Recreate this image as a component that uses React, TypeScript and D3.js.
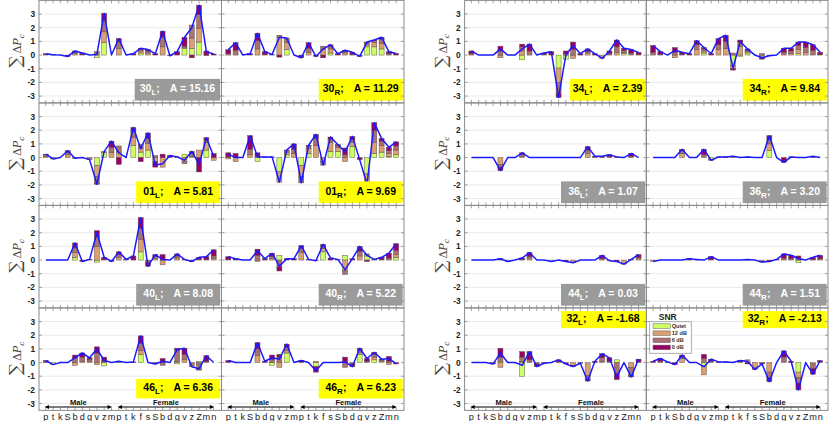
import React from 'react';
import * as d3 from 'd3';

// ---------- data ----------
const categories = ['p','t','k','S','b','d','g','v','z','m','p','t','k','f','s','S','b','d','g','v','z','Z','m','n'];
const talkerGroups = [
  { label: 'Male', from: 0, to: 9 },
  { label: 'Female', from: 10, to: 23 },
];
const snrLevels = ['Quiet', '12 dB', '6 dB', '0 dB'];
const yTickValues = [3, 2, 1, 0, -1, -2, -3];

// each row: [Quiet, 12 dB, 6 dB, 0 dB]
const p30L = [
  [0,0,0.05,0.05],[0,0,0,0.03],[0,0,0,0],[0,0,0,-0.1],[0,0.1,0.1,0.1],[0,0,0.05,0.1],[0,0,0,0],[-0.2,0.1,0.15,0],[0.9,0.8,0.8,0.55],[0,0,0,0],
  [0,0.5,0.5,0.2],[0,0,0,0],[0,0,0,0.1],[0.15,0.15,0.1,0.1],[0,0.15,0.15,0.1],[0,0,0,0.1],[0,0.6,0.7,0.45],[0,0,0,-0.05],[0,0,0,0.25],[0.5,0.05,0.1,0.65],[0.5,0.75,0.95,-0.2],[0.95,1.0,1.0,0.7],[0,0,-0.05,0.3],[0,0,0,0.08],
];
const p30R = [
  [0,0,0.1,0.3],[0,0,0.35,0.55],[0,0,0,0],[0,0,0,0.1],[0,0.45,0.6,0.55],[0,0,0.05,0.2],[0,0,0,0.05],[0,1.3,0.15,-0.15],[0.4,0.5,0.35,0],[0,0,0,0],
  [0,0,0,-0.2],[0,0.2,0.3,0.4],[0,0,0,-0.1],[0,0.4,0.25,-0.2],[0.15,0.3,0.2,0.1],[0,0,0,0.1],[0,0.15,0.1,0.1],[0,0,0.05,0.15],[0,0,0,-0.1],[0.6,0.2,0.1,0.05],[0.6,0.3,0.15,0.05],[0.45,0.4,0.3,0.15],[0,0,0.1,0.15],[0,0,0,0.12],
];
const p01L = [
  [0,0.1,0.1,0.05],[0,0,-0.1,0],[0,0,0,0],[0,0.2,0.15,0.15],[0,0,0,-0.05],[0,0,0,0],[0,0,-0.15,0],[-0.6,-0.8,-0.5,-0.05],[0.35,0.1,0,0],[0,0.35,0.4,0.45],
  [0,0.4,0.45,-0.5],[0,0,0,0],[0.9,0.6,0.4,0.3],[0.4,0.25,0.3,-0.3],[0.55,0.5,0.35,0.4],[0,-0.3,0.15,-0.4],[0,-0.7,0,0.25],[0,0,0,0.15],[0,0,0,0.05],[0.25,-0.3,-0.15,0],[0,0.1,0.2,0.15],[0,0.55,0,-1.05],[0.55,0.55,0.2,0.15],[0,-0.2,0,0.3],
];
const p01R = [
  [0,-0.1,0.05,0.3],[0,-0.3,0,0.3],[0,0,0,0],[0,0.2,0.4,1.0],[-0.3,0,0.1,0.25],[0,0,0,0.05],[0,0,0,0.05],[-1.0,-0.8,0,0],[0.2,0.2,0.1,0.05],[0,0.3,0.3,0.4],
  [-0.6,-0.8,-0.45,0],[0.3,0.35,0.2,0.05],[0,0.9,0.5,0.3],[0,-0.3,-0.25,0],[0.45,0.65,0.25,0.15],[0.45,0.3,0.15,0.05],[0,-0.3,0.2,0.5],[0.8,0.3,0.2,0.25],[0,0,0,-0.15],[-1.2,-0.75,0,0],[0.3,0.8,0.9,0.55],[0.4,0.5,0.3,0.2],[0.1,0.2,0.2,0.25],[0.2,0.35,0.3,0.3],
];
const p40L = [
  [0,0,0,0],[0,0,0,0],[0,0,0,0],[0,0,0,0],[0.2,0.35,0.35,0.35],[0,0,0,-0.1],[0,0,0,0.05],[-0.15,1.0,0.7,0.45],[0,0,0.05,0.15],[0,0,0,-0.1],
  [0,0.2,0.2,0.2],[0,0,0,0.05],[0,0,0,0.3],[0.6,0.9,0.8,0.8],[0,0,-0.2,-0.25],[0,0.1,0.15,0.15],[0,-0.35,0,0.4],[0,0,0,0],[0,0.15,0.15,0.15],[0,0,0,0.05],[0,0,0,-0.1],[0,0,0.05,0.15],[0,0,0.05,0.2],[0,0.1,0.2,0.45],
];
const p40R = [
  [0,0,0.05,0.2],[0,0,0,0.1],[0,0,0,0],[0,0,0,0],[0,-0.1,0.35,0.45],[0,0,0,0.1],[0,0.1,0.15,0.25],[0.35,0,-0.5,-0.3],[0,0,0,0.1],[0,0,0,0.1],
  [0,0.55,0.3,0.2],[0,0,0,0.05],[0,0,0,-0.05],[0.6,0.25,0.15,0.15],[0,0,0,0.15],[0,0,0,0.05],[0.35,-0.75,-0.3,0],[0,0,0,0.1],[0,0.3,0.35,0.35],[0.3,0.1,0.05,-0.1],[0,0,0,0.05],[0,0,0.05,0.15],[0,0,0.15,0.35],[0.2,0.2,0.3,0.5],
];
const p46L = [
  [0,0,0.05,0.1],[-0.15,0,0,0],[0,0,0,0],[0,0,0,0],[0,-0.2,0.3,0.25],[0,0.1,0.3,0.3],[0,0.1,0.15,0.1],[0,-0.15,0.7,0.45],[-0.25,0,0.1,0.3],[0,0,0,0],
  [0,0,0.05,0.05],[0,0,0,0],[0,0,0,0.05],[0.6,0.3,0.5,0.55],[0,0,0,0],[0,0,0,-0.1],[0,0,-0.2,0.3],[0,0,0,0],[-0.1,0.1,0.8,0.15],[0,0.2,0.4,0.45],[0,0,-0.3,0],[0.1,-0.1,-0.4,-0.05],[0,0,0.1,0.4],[0,0,0,0],
];
const p46R = [
  [0,0,0,0.15],[0,0,0,0],[0,0,0,0],[0,0,0,0],[0,0.5,0.5,0.45],[0,0,0,0.1],[-0.2,0,0.2,0.35],[0,-0.35,0.4,0.2],[0.7,0.2,0.2,0.25],[0,0,0,0],
  [0,0,0,0.15],[0,0,0,0],[-0.3,0.1,0,-0.4],[0,0,0,0],[0,0,0,0],[0,0,0,0],[0,0,-0.35,0.4],[0,0,-0.1,-0.2],[0.6,0.15,0.15,0.15],[0,0,0.1,0.2],[0.2,0.2,0.2,0.15],[0.1,0.05,0.05,0.05],[0,-0.15,0.1,0.35],[0,0,0,-0.1],
];
const p34L = [
  [0,0,0.1,0.2],[0,0,0,0],[0,0,0,0],[0,0,0,0],[0,-0.2,0.3,0.35],[0,0,0,0],[0,0,0,0],[-0.35,0.3,0.3,0.2],[0,0,0.3,0.5],[0,0,0,0],
  [0,0,0.05,0.1],[0,0,0.05,0.2],[-0.95,-1.05,-0.8,-0.3],[-0.3,0,0.1,0.2],[0,-0.25,0.4,0.55],[0,0,0,0.1],[0,0.15,0.1,0.2],[0,0,0,0.1],[0,-0.25,0,0],[0,0,0.1,0.2],[0,0.2,0.4,0.5],[0.1,0.1,0.15,0.15],[0,0,0.15,0.25],[0,0,0.05,0.15],
];
const p34R = [
  [0,0,0.2,0.5],[0,0,0.05,0.2],[0,0,0,0],[0,-0.2,0.2,0.35],[0,0,0.05,0.15],[0,0,0,0.1],[0,0.4,0.35,0.3],[0.15,0.15,0.15,0.1],[0,0,0,0.1],[0,0.4,0.35,0.45],
  [0,0.5,0.5,0.45],[-0.75,-0.25,0.15,-0.1],[-0.1,0.65,0.3,0.15],[0.15,0.1,0.1,0.1],[0,0,0,0],[0,-0.2,0.1,-0.1],[0,0,0,-0.05],[0,0,0,0],[0,0,0.2,0.3],[0,0.1,0.2,0.2],[0.1,0.3,0.3,0.25],[0,0.2,0.35,0.4],[0,0,0.35,0.4],[0,0,0.05,0.15],
];
const p36L = [
  [0,0,0,0],[0,0,0,0],[0,0,0,0],[0,0,0,0],[0,-0.5,-0.2,-0.25],[0,0,0,0],[0,0,0,0],[0,0.1,0.1,0.15],[0,0,0,0],[0,0,0,0],
  [0,0,0,0],[0,0,0,0],[0,0,0,0],[0,0,0,0],[0,0,0,0],[0,0,0,0],[0,0.3,0.25,0.25],[0,0,0,0.1],[0,0,0,0.1],[0,0,0.05,0.15],[0,0,0,0.05],[0,0,0,0],[0,0,0.1,0.2],[0,0,0,0],
];
const p36R = [
  [0,0,0,0],[0,0,0,0],[0,0,0,0],[0,0,0,0],[0,0.3,0.2,0.1],[0,0,0,0],[0,0,0,0],[0,0,0.2,0.4],[-0.15,0,0,-0.05],[0,0,0,0.05],
  [0,0,0,0.05],[0,0.05,0.05,0],[0,0,0,0],[0,0,0,0.05],[0,0,0,0],[0,0,0,0],[0.5,0.5,0.35,0.25],[0,0,0,0],[0,0,0,-0.35],[0,0,0,0.05],[0,0,0,0],[0,0,0,0],[0,0,0,0.1],[0,0,0,0],
];
const p44L = [
  [0,0,0,0],[0,0,0,0],[0,0,0,0],[0,0,0,0],[0,0,0,0.1],[-0.1,0,0,0],[0,0,0,0],[0,0,0.05,0.1],[0,0.15,0.1,0.3],[0,0,0,0],
  [0,0,0,0],[-0.1,0,0,0],[0,0,0,0],[0,0,0,-0.1],[0,-0.2,0,0],[0,0,0,0],[0,0,0,0],[0,0,0,0],[0,0,0.1,0.25],[0,0,0,-0.05],[0,0,0,-0.1],[0,-0.25,-0.05,0],[0,0,0,0.05],[0,0.1,0.1,0.2],
];
const p44R = [
  [0,-0.1,0,0],[0,0,0,0],[0,0,0,0],[0,0,0,0],[0,0,0,0],[0,0,0,0.1],[0,0,0,0.05],[0,0,0,0],[0,0,0.05,0.2],[0,0,0,0],
  [0,0,0,0],[0,0,0,0],[0,0,0,0],[0,0,0,0.05],[0,0,0,0],[0,-0.1,0,-0.05],[0,0,0,-0.1],[0,0,0,0.05],[0,0,0.15,0.3],[0,0,0.1,0.25],[-0.2,0,0.1,0.2],[0,0,0,0],[0,0,0.05,0.15],[0,0,0.1,0.25],
];
const p32L = [
  [0,0,0,0],[0,0,0,0],[0,0,0,0],[0,0,0,-0.1],[0.1,-0.35,0.3,0.65],[0,0,0,0],[0,0,0,0],[-1.0,0.1,0.3,0.4],[0,0,0.2,0.6],[0,0,-0.1,-0.2],
  [0,0,0,-0.05],[0,0,0,0],[0,0,0.05,0.15],[0,0,0,-0.1],[0,-0.2,0,-0.1],[0,0,0,-0.05],[0,-0.95,-0.3,-0.1],[0,0,0,0.1],[0,0.1,0.25,0.3],[0,0,0.1,0.25],[0.2,0,-0.8,-0.45],[0,0,0,0],[0,-0.35,-0.6,-0.1],[0,0,0.05,0.2],
];
const p32R = [
  [0,0,0,0.1],[0,0,0.1,0.2],[0,0,0,0.05],[0,0,0,-0.15],[0,0.3,0.1,0.15],[0,0,0,0],[0,0,0,0],[-0.3,-0.6,0.3,0.3],[0,0,0.1,0.15],[0,0,0,0.05],
  [0,0,0,0.05],[0,0,0,0],[0,0,0.05,0.1],[0,0.2,0,-0.1],[0,-0.4,0,-0.1],[0,0,0,-0.1],[0,-0.7,-0.4,-0.3],[0,0,0,0],[0,0,0.4,0.45],[0,0,0,0.1],[-0.7,-0.4,-0.4,-0.5],[0,0,0,0],[0,-0.1,-0.35,-0.4],[0,0,0.05,0.1],
];

const groupRows = [
  ['30', '01', '40', '46'],
  ['34', '36', '44', '32'],
];
const sides = ['L', 'R'];
const panelData: Record<string, number[][]> = {
  '30L': p30L, '30R': p30R, '01L': p01L, '01R': p01R, '40L': p40L, '40R': p40R, '46L': p46L, '46R': p46R,
  '34L': p34L, '34R': p34R, '36L': p36L, '36R': p36R, '44L': p44L, '44R': p44R, '32L': p32L, '32R': p32R,
};
const aValues: Record<string, string> = {
  '30L': '15.16', '30R': '11.29', '01L': '5.81', '01R': '9.69', '40L': '8.08', '40R': '5.22', '46L': '6.36', '46R': '6.23',
  '34L': '2.39', '34R': '9.84', '36L': '1.07', '36R': '3.20', '44L': '0.03', '44R': '1.51', '32L': '-1.68', '32R': '-2.13',
};
const grayPanels = ['30L', '36L', '36R', '40L', '40R', '44L', '44R'];

// ---------- layout / style ----------
const COLORS = ['#ccff66', '#d9a171', '#a9716f', '#990066'];
const LINE_COLOR = '#1a1aff';
const FRAME = '#8a8a8a';
const groupX = [39, 464.6];
const groupPW = [182.5, 181.7];
const ROW_TOP = 0.4;
const ROW_H = 102.5;
const SANS = '"Liberation Sans", Arial, Helvetica, sans-serif';
const SERIF = '"DejaVu Serif", "Liberation Serif", serif';
const boxWidths: Record<string, number> = { '30L': 85.5, '34L': 75 };

function boxRect(key: string, row: number, x1: number, y0: number, y1: number) {
  const w = boxWidths[key] ?? 84;
  const x = x1 - 1.3 - w;
  if (row === 3) {
    if (key.startsWith('32')) return { x, y: y0 + 3.2, w, h: 17 };
    return { x, y: y0 + 71, w, h: 19.5 };
  }
  return { x, y: y1 - 24, w, h: 21.7 };
}

function Panel({ g, row, col }: { g: number; row: number; col: number }) {
  const id = groupRows[g][row];
  const key = id + sides[col];
  const data = panelData[key];
  const pw = groupPW[g];
  const x0 = groupX[g] + col * pw;
  const x1 = x0 + pw;
  const y0 = ROW_TOP + row * ROW_H;
  const y1 = y0 + ROW_H;
  const x = d3.scaleLinear().domain([-0.93, 24.07]).range([x0, x1]);
  const y = d3.scaleLinear().domain([-3.5, 4]).range([y1, y0]);
  const stack = d3
    .stack<number[], number>()
    .keys([0, 1, 2, 3])
    .value((d, k) => d[k])
    .offset(d3.stackOffsetDiverging);
  const series = stack(data);
  const totals = data.map((d) => d3.sum(d));
  const line = d3
    .line<number>()
    .x((_, i) => x(i))
    .y((v) => y(v));
  const bw = 5;
  const isGray = grayPanels.includes(key);
  const b = boxRect(key, row, x1, y0, y1);
  const grid = [-3, -2, -1, 1, 2, 3];

  return (
    <g>
      {grid.map((t) => (
        <line key={'g' + t} x1={x0} x2={x1} y1={y(t)} y2={y(t)} stroke="#e4e4e4" strokeWidth={0.8} />
      ))}
      {series.map((s, k) =>
        s.map((d, i) => {
          if (d[1] === d[0]) return null;
          const top = y(Math.max(d[0], d[1]));
          const bot = y(Math.min(d[0], d[1]));
          return (
            <rect
              key={k + '-' + i}
              x={x(i) - bw / 2}
              y={top}
              width={bw}
              height={Math.max(0.3, bot - top)}
              fill={COLORS[k]}
              stroke="#5a4a4a"
              strokeWidth={0.45}
            />
          );
        })
      )}
      <path d={line(totals) || ''} fill="none" stroke={LINE_COLOR} strokeWidth={1.5} strokeLinejoin="round" />
      <rect x={b.x} y={b.y} width={b.w} height={b.h} fill={isGray ? '#9b9b9b' : '#ffff00'} />
      <text
        x={b.x + b.w / 2}
        y={b.y + b.h / 2 + 2.6}
        textAnchor="middle"
        fontFamily={SANS}
        fontWeight="bold"
        fontSize={10.5}
        fill={isGray ? '#ffffff' : '#000000'}
      >
        <tspan>{id}</tspan>
        <tspan fontSize={8} dy={3}>{sides[col]}</tspan>
        <tspan dy={-3}>;</tspan>
        <tspan dx={10}>{'A = ' + aValues[key]}</tspan>
      </text>
      {key === '32R' && <Legend x0={x0} y0={y0} />}
      <rect x={x0} y={y0} width={pw} height={ROW_H} fill="none" stroke={FRAME} strokeWidth={1} />
      {categories.map((_, i) => (
        <g key={'xt' + i}>
          <line x1={x(i)} x2={x(i)} y1={y0} y2={y0 + 3} stroke={FRAME} strokeWidth={0.8} />
          <line x1={x(i)} x2={x(i)} y1={y1} y2={y1 - 3} stroke={FRAME} strokeWidth={0.8} />
        </g>
      ))}
      {yTickValues.map((t) => (
        <g key={'yt' + t}>
          <line x1={x0} x2={x0 + 3} y1={y(t)} y2={y(t)} stroke={FRAME} strokeWidth={0.8} />
          <line x1={x1} x2={x1 - 3} y1={y(t)} y2={y(t)} stroke={FRAME} strokeWidth={0.8} />
        </g>
      ))}
      {col === 0 &&
        yTickValues.map((t) => (
          <text
            key={'yl' + t}
            x={x0 - 4}
            y={y(t) + 3}
            textAnchor="end"
            fontFamily={SANS}
            fontWeight="bold"
            fontSize={8.3}
            fill="#222"
          >
            {t}
          </text>
        ))}
      {col === 0 && (
        <text
          transform={`translate(${x0 - 18},${y0 + 50.5}) rotate(-90)`}
          textAnchor="middle"
          fontFamily={SERIF}
          fill="#444"
        >
          <tspan fontSize={17} dy={0}>∑</tspan>
          <tspan fontSize={11} dx={2}>Δ</tspan>
          <tspan fontSize={11} fontStyle="italic">P</tspan>
          <tspan fontSize={7.5} fontStyle="italic" dy={2.5}>c</tspan>
        </text>
      )}
      {row === 3 && (
        <g>
          {talkerGroups.map((tg) => {
            const ay = y(-3.25);
            const ax0 = x(tg.from) - 1.2;
            const ax1 = x(tg.to) + 0.6;
            return (
              <g key={tg.label}>
                <line x1={ax0 + 2} x2={ax1 - 2} y1={ay} y2={ay} stroke="#000" strokeWidth={1.2} />
                <path d={`M${ax0},${ay} L${ax0 + 4.5},${ay - 2} L${ax0 + 4.5},${ay + 2} Z`} fill="#000" />
                <path d={`M${ax1},${ay} L${ax1 - 4.5},${ay - 2} L${ax1 - 4.5},${ay + 2} Z`} fill="#000" />
                <text
                  x={(ax0 + ax1) / 2}
                  y={ay - 2.2}
                  textAnchor="middle"
                  fontFamily={SANS}
                  fontWeight="bold"
                  fontSize={7.5}
                  fill="#111"
                >
                  {tg.label}
                </text>
              </g>
            );
          })}
          {categories.map((c, i) => (
            <text key={'xl' + i} x={x(i)} y={420} textAnchor="middle" fontFamily={SANS} fontSize={9.2} fill="#222">
              {c}
            </text>
          ))}
        </g>
      )}
    </g>
  );
}

function Legend({ x0, y0 }: { x0: number; y0: number }) {
  const lx = x0 + 3.4;
  const ly = y0 + 13.8;
  return (
    <g>
      <text x={lx + 18} y={ly - 1.4} textAnchor="middle" fontFamily={SANS} fontWeight="bold" fontSize={8.5} fill="#222">
        SNR
      </text>
      <rect x={lx} y={ly} width={41.6} height={31.6} fill="#ffffff" stroke="#9a9a9a" strokeWidth={0.8} />
      {snrLevels.map((s, k) => {
        const cy = ly + 4.4 + k * 7.1;
        return (
          <g key={s}>
            <rect x={lx + 3.3} y={cy - 2.3} width={17.3} height={4.6} fill={COLORS[k]} stroke="#6a5a5a" strokeWidth={0.5} />
            <text x={lx + 22} y={cy + 2} fontFamily={SANS} fontWeight="bold" fontSize={5.6} fill="#333">
              {s}
            </text>
          </g>
        );
      })}
    </g>
  );
}

export default function App() {
  const cells: { g: number; row: number; col: number }[] = [];
  for (let g = 0; g < 2; g++)
    for (let row = 0; row < 4; row++)
      for (let col = 0; col < 2; col++) cells.push({ g, row, col });
  return (
    <div>
      <style>{'body{margin:0}'}</style>
      <svg width={830} height={421} style={{ position: 'absolute', left: 0, top: 0, background: '#fff' }}>
        <rect x={0} y={0} width={830} height={421} fill="#ffffff" />
        {cells.map((c) => (
          <Panel key={`${c.g}-${c.row}-${c.col}`} g={c.g} row={c.row} col={c.col} />
        ))}
      </svg>
    </div>
  );
}
